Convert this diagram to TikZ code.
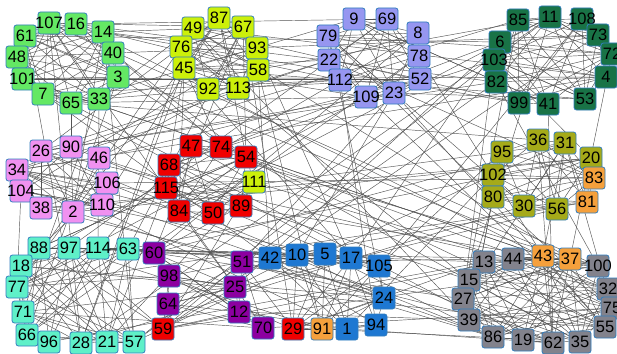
\documentclass[tikz,border=0pt]{standalone}
\usepackage{fontspec}
\setmainfont{Liberation Sans}
\usetikzlibrary{backgrounds}
\definecolor{gA}{RGB}{100,232,100}
\definecolor{gB}{RGB}{204,240,10}
\definecolor{gC}{RGB}{150,150,240}
\definecolor{gD}{RGB}{25,115,70}
\definecolor{gE}{RGB}{240,145,240}
\definecolor{gF}{RGB}{240,0,0}
\definecolor{gG}{RGB}{165,170,25}
\definecolor{gH}{RGB}{245,160,60}
\definecolor{gI}{RGB}{95,240,200}
\definecolor{gJ}{RGB}{140,0,160}
\definecolor{gK}{RGB}{30,120,210}
\definecolor{gL}{RGB}{130,130,140}
\definecolor{bordc}{RGB}{50,125,190}
\definecolor{edgec}{RGB}{85,85,85}
\tikzset{
  nd/.style={draw=bordc, line width=0.8pt, rounded corners=2.5pt,
    minimum width=22pt, minimum height=22pt, inner sep=0pt,
    font=\fontsize{16.5}{16.5}\selectfont, text=black},
  edge/.style={draw=edgec, line width=0.45pt}
}
\newcommand\nn[4]{\node[nd, fill=#4] (n#1) at (#2,#3) {\makebox[0pt]{#1}};}
\newcommand\mkclique[2]{%
  \foreach \a [count=\i] in {#1} {
    \foreach \b [count=\j] in {#1} {
      \ifnum\j>\i
        \pgfmathsetmacro\rv{rnd}
        \ifdim\rv pt<#2pt \draw[edge] (n\a) -- (n\b); \fi
      \fi
    }
  }%
}
\begin{document}
\begin{tikzpicture}[x=1pt,y=-1pt]
\useasboundingbox (0,0) rectangle (617,353);
% light green
\nn{107}{49}{23}{gA} \nn{16}{76}{24}{gA} \nn{14}{103}{32}{gA} \nn{61}{25}{36}{gA}
\nn{48}{17}{57}{gA} \nn{40}{113}{53}{gA} \nn{101}{23}{79}{gA} \nn{3}{118}{77}{gA}
\nn{7}{43}{94}{gA} \nn{65}{71}{103}{gA} \nn{33}{99}{99}{gA}
% yellow
\nn{49}{193}{28}{gB} \nn{87}{219}{18}{gB} \nn{67}{243}{27}{gB} \nn{76}{181}{47}{gB}
\nn{93}{257}{48}{gB} \nn{45}{184}{68}{gB} \nn{58}{258}{70}{gB} \nn{92}{208}{89}{gB}
\nn{113}{238}{88}{gB} \nn{111}{254}{182}{gB}
% lavender
\nn{79}{328}{36}{gC} \nn{9}{354}{19}{gC} \nn{69}{387}{19}{gC} \nn{8}{418}{33}{gC}
\nn{22}{329}{60}{gC} \nn{78}{419}{56}{gC} \nn{112}{340}{80}{gC} \nn{52}{420}{79}{gC}
\nn{109}{366}{97}{gC} \nn{23}{394}{93}{gC}
% dark green
\nn{85}{518}{20}{gD} \nn{11}{550}{17}{gD} \nn{108}{582}{19}{gD} \nn{6}{500}{42}{gD}
\nn{73}{598}{35}{gD} \nn{72}{612}{54}{gD} \nn{103}{494}{60}{gD} \nn{4}{606}{77}{gD}
\nn{82}{496}{82}{gD} \nn{99}{519}{103}{gD} \nn{41}{548}{104}{gD} \nn{53}{585}{99}{gD}
% pink
\nn{26}{41}{151}{gE} \nn{90}{71}{147}{gE} \nn{46}{99}{158}{gE} \nn{34}{17}{170}{gE}
\nn{106}{107}{183}{gE} \nn{104}{21}{191}{gE} \nn{38}{41}{208}{gE} \nn{2}{73}{212}{gE}
\nn{110}{102}{205}{gE}
% red
\nn{68}{169}{165}{gF} \nn{47}{191}{146}{gF} \nn{74}{221}{147}{gF} \nn{54}{246}{157}{gF}
\nn{115}{166}{188}{gF} \nn{84}{179}{211}{gF} \nn{50}{213}{213}{gF} \nn{89}{241}{206}{gF}
\nn{59}{163}{329}{gF} \nn{29}{293}{329}{gF}
% olive
\nn{36}{538}{140}{gG} \nn{31}{565}{143}{gG} \nn{95}{502}{152}{gG} \nn{20}{591}{158}{gG}
\nn{102}{493}{175}{gG} \nn{80}{493}{197}{gG} \nn{30}{524}{206}{gG} \nn{56}{557}{209}{gG}
% orange
\nn{83}{594}{178}{gH} \nn{81}{587}{202}{gH} \nn{43}{543}{256}{gH} \nn{37}{570}{259}{gH}
\nn{91}{322}{329}{gH}
% cyan
\nn{88}{39}{248}{gI} \nn{97}{69}{248}{gI} \nn{114}{98}{248}{gI} \nn{63}{128}{249}{gI}
\nn{18}{21}{266}{gI} \nn{77}{17}{287}{gI} \nn{71}{23}{312}{gI} \nn{66}{27}{335}{gI}
\nn{96}{49}{342}{gI} \nn{28}{81}{343}{gI} \nn{21}{107}{342}{gI} \nn{57}{134}{342}{gI}
% purple
\nn{60}{154}{253}{gJ} \nn{98}{169}{276}{gJ} \nn{64}{168}{304}{gJ} \nn{51}{242}{262}{gJ}
\nn{25}{235}{287}{gJ} \nn{12}{239}{312}{gJ} \nn{70}{263}{328}{gJ}
% blue
\nn{42}{270}{258}{gK} \nn{10}{297}{255}{gK} \nn{5}{325}{254}{gK} \nn{17}{351}{258}{gK}
\nn{105}{379}{266}{gK} \nn{24}{384}{298}{gK} \nn{1}{347}{329}{gK} \nn{94}{376}{325}{gK}
% gray
\nn{13}{484}{262}{gL} \nn{44}{513}{259}{gL} \nn{100}{598}{266}{gL} \nn{15}{469}{280}{gL}
\nn{32}{608}{289}{gL} \nn{27}{463}{299}{gL} \nn{75}{612}{308}{gL} \nn{39}{469}{320}{gL}
\nn{55}{605}{327}{gL} \nn{86}{493}{337}{gL} \nn{19}{523}{340}{gL} \nn{62}{553}{343}{gL}
\nn{35}{580}{342}{gL}
\begin{pgfonlayer}{background}
\fill[white] (0,0) rectangle (617,353);
\pgfmathsetseed{11}
\mkclique{107,16,14,61,48,40,101,3,7,65,33}{0.7}
\mkclique{49,87,67,76,93,45,58,92,113}{0.7}
\mkclique{79,9,69,8,22,78,112,52,109,23}{0.7}
\mkclique{85,11,108,6,73,72,103,4,82,99,41,53}{0.7}
\mkclique{26,90,46,34,106,104,38,2,110}{0.7}
\mkclique{68,47,74,54,115,84,50,89,111}{0.7}
\mkclique{36,31,95,20,102,80,30,56,83,81}{0.7}
\mkclique{88,97,114,63,18,77,71,66,96,28,21,57}{0.7}
\mkclique{60,98,64,59,51,25,12,70}{0.7}
\mkclique{42,10,5,17,105,24,1,94,29,91}{0.7}
\mkclique{13,44,43,37,100,15,32,27,75,39,55,86,19,62,35}{0.6}
\foreach \k in {1,...,210} {
  \pgfmathrandominteger{\p}{1}{115}
  \pgfmathrandominteger{\q}{1}{115}
  \ifnum\p=\q\else \draw[edge] (n\p) -- (n\q); \fi
}
\end{pgfonlayer}
\end{tikzpicture}
\end{document}
